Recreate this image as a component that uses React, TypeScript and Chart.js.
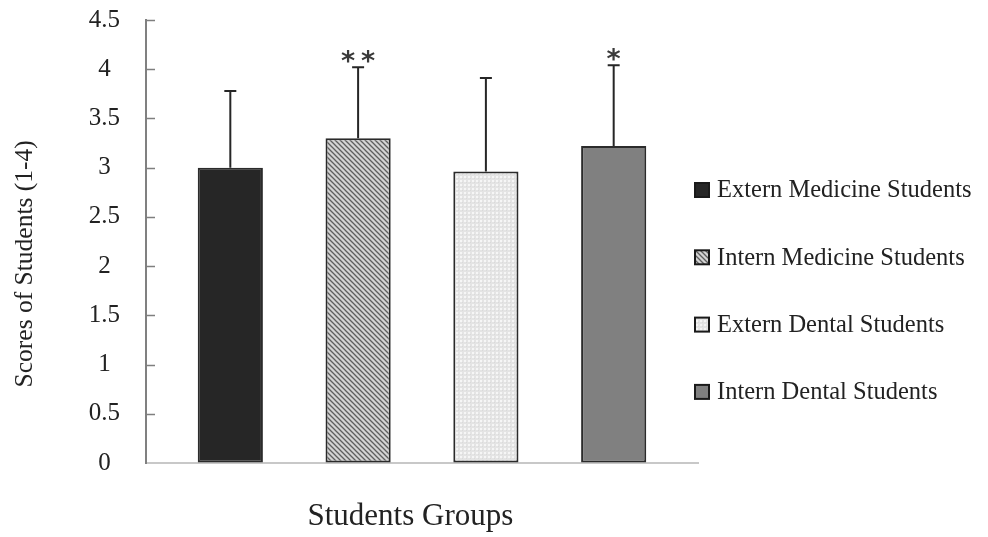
import React, { useEffect, useRef } from "react";
import { Chart, registerables } from "chart.js";

Chart.register(...registerables);

const groupLabels = ["Students Groups"];
const seriesNames = [
  "Extern Medicine Students",
  "Intern Medicine Students",
  "Extern Dental Students",
  "Intern Dental Students",
];
const meanScores = [3.0, 3.3, 2.96, 3.22];
const sdScores = [0.78, 0.72, 0.95, 0.82];
const significance = ["", "**", "", "*"];
const yTicks = [0, 0.5, 1, 1.5, 2, 2.5, 3, 3.5, 4, 4.5];
const xTitle = "Students Groups";
const yTitle = "Scores of Students (1-4)";

const SERIF = '"Liberation Serif", "Times New Roman", serif';
const NBSP = "\u00a0";

function makeHatch(): CanvasPattern | string {
  const c = document.createElement("canvas");
  c.width = 5;
  c.height = 5;
  const g = c.getContext("2d");
  if (!g) return "#a6a6a6";
  g.fillStyle = "#d4d4d4";
  g.fillRect(0, 0, 5, 5);
  g.strokeStyle = "#5e5e5e";
  g.lineWidth = 1.3;
  g.beginPath();
  g.moveTo(-5, 0); g.lineTo(5, 10);
  g.moveTo(0, 0); g.lineTo(5, 5);
  g.moveTo(0, -5); g.lineTo(10, 5);
  g.stroke();
  return g.createPattern(c, "repeat") || "#a6a6a6";
}

function makeDots(): CanvasPattern | string {
  const c = document.createElement("canvas");
  c.width = 4;
  c.height = 4;
  const g = c.getContext("2d");
  if (!g) return "#e6e6e6";
  g.fillStyle = "#e4e4e4";
  g.fillRect(0, 0, 4, 4);
  g.fillStyle = "#f6f6f6";
  g.fillRect(0, 0, 2, 2);
  g.fillStyle = "#dadada";
  g.fillRect(2, 2, 1, 1);
  return g.createPattern(c, "repeat") || "#e6e6e6";
}

const errorBarPlugin = {
  id: "errorBars",
  afterDatasetsDraw(chart: any) {
    const ctx = chart.ctx;
    const y = chart.scales.y;
    ctx.save();
    chart.data.datasets.forEach((ds: any, i: number) => {
      const meta = chart.getDatasetMeta(i);
      const el = meta.data[0];
      if (!el) return;
      const top = y.getPixelForValue(meanScores[i] + sdScores[i]);
      const base = y.getPixelForValue(meanScores[i]);
      ctx.strokeStyle = "#262626";
      ctx.lineWidth = 2;
      ctx.beginPath();
      ctx.moveTo(el.x, base);
      ctx.lineTo(el.x, top);
      ctx.moveTo(el.x - 6, top);
      ctx.lineTo(el.x + 6, top);
      ctx.stroke();
      const s = significance[i];
      if (s) {
        ctx.fillStyle = "#3a3a3a";
        ctx.font = 'bold 27px "DejaVu Sans", sans-serif';
        ctx.textAlign = "center";
        ctx.textBaseline = "alphabetic";
        const chars = s.split("");
        chars.forEach((ch, k) => {
          const dx = (k - (chars.length - 1) / 2) * 20;
          ctx.fillText(ch, el.x + dx, top + 3);
        });
      }
    });
    ctx.restore();
  },
};

const axisTicksPlugin = {
  id: "innerTicks",
  afterDraw(chart: any) {
    const ctx = chart.ctx;
    const y = chart.scales.y;
    const x0 = chart.chartArea.left;
    ctx.save();
    ctx.strokeStyle = "#7f7f7f";
    ctx.lineWidth = 1.5;
    ctx.beginPath();
    yTicks.forEach((v) => {
      if (v === 0) return;
      const py = Math.round(y.getPixelForValue(v)) + 0.5;
      ctx.moveTo(x0, py);
      ctx.lineTo(x0 + 9, py);
    });
    ctx.stroke();
    ctx.restore();
  },
};

const legendPlugin = {
  id: "customLegend",
  afterDraw(chart: any) {
    const ctx = chart.ctx;
    const startX = 695;
    const startY = 190;
    const gap = 67.3;
    ctx.save();
    chart.data.datasets.forEach((ds: any, i: number) => {
      const cy = startY + i * gap;
      ctx.fillStyle = ds.backgroundColor;
      ctx.fillRect(startX, cy - 7, 14, 14);
      ctx.strokeStyle = "#1a1a1a";
      ctx.lineWidth = 2;
      ctx.strokeRect(startX, cy - 7, 14, 14);
      ctx.fillStyle = "#222222";
      ctx.font = `24.5px ${SERIF}`;
      ctx.textAlign = "left";
      ctx.textBaseline = "middle";
      ctx.fillText(ds.label, startX + 22, cy + 1);
    });
    ctx.restore();
  },
};

export default function App() {
  const ref = useRef<HTMLCanvasElement | null>(null);

  useEffect(() => {
    if (!ref.current) return;
    const fills = ["#262626", makeHatch(), makeDots(), "#808080"];
    const chart = new Chart(ref.current, {
      type: "bar",
      data: {
        labels: groupLabels,
        datasets: seriesNames.map((name, i) => ({
          label: name,
          data: [meanScores[i]],
          backgroundColor: fills[i] as any,
          borderColor: "#2b2b2b",
          borderWidth: 2,
          borderSkipped: false,
          categoryPercentage: 0.926,
          barPercentage: 0.51,
        })),
      },
      options: {
        animation: false,
        responsive: true,
        maintainAspectRatio: false,
        layout: { padding: { top: 20, right: 290, left: 0, bottom: 0 } },
        plugins: {
          legend: { display: false },
          tooltip: { enabled: false },
        },
        scales: {
          x: {
            ticks: { display: false },
            grid: { display: false, drawTicks: false },
            border: { display: true, color: "#c8c8c8", width: 2 },
            title: {
              display: true,
              text: xTitle + NBSP.repeat(3),
              color: "#222222",
              font: { family: SERIF, size: 31 },
              padding: { top: 0, bottom: 2 },
            },
            afterFit(scale: any) {
              scale.height = 74;
              scale.paddingTop = 0;
              scale.paddingBottom = 0;
            },
          },
          y: {
            min: 0,
            max: 4.5,
            afterBuildTicks(scale: any) {
              scale.ticks = yTicks.map((v) => ({ value: v }));
            },
            ticks: {
              color: "#222222",
              font: { family: SERIF, size: 25 },
              crossAlign: "center",
              padding: 26,
              callback: (v: any) => String(v),
            },
            grid: { drawOnChartArea: false, drawTicks: false },
            border: { display: true, color: "#808080", width: 2 },
            title: {
              display: true,
              text: yTitle + NBSP.repeat(7),
              color: "#222222",
              font: { family: SERIF, size: 25.5 },
              padding: { top: 10, bottom: 0 },
            },
            afterFit(scale: any) {
              scale.width = 146;
              scale.paddingTop = 0;
              scale.paddingBottom = 0;
            },
          },
        },
      },
      plugins: [errorBarPlugin, axisTicksPlugin, legendPlugin],
    });
    return () => chart.destroy();
  }, []);

  return (
    <div style={{ position: "fixed", left: 0, top: 0, width: 988, height: 537, background: "#ffffff" }}>
      <canvas ref={ref} />
    </div>
  );
}
